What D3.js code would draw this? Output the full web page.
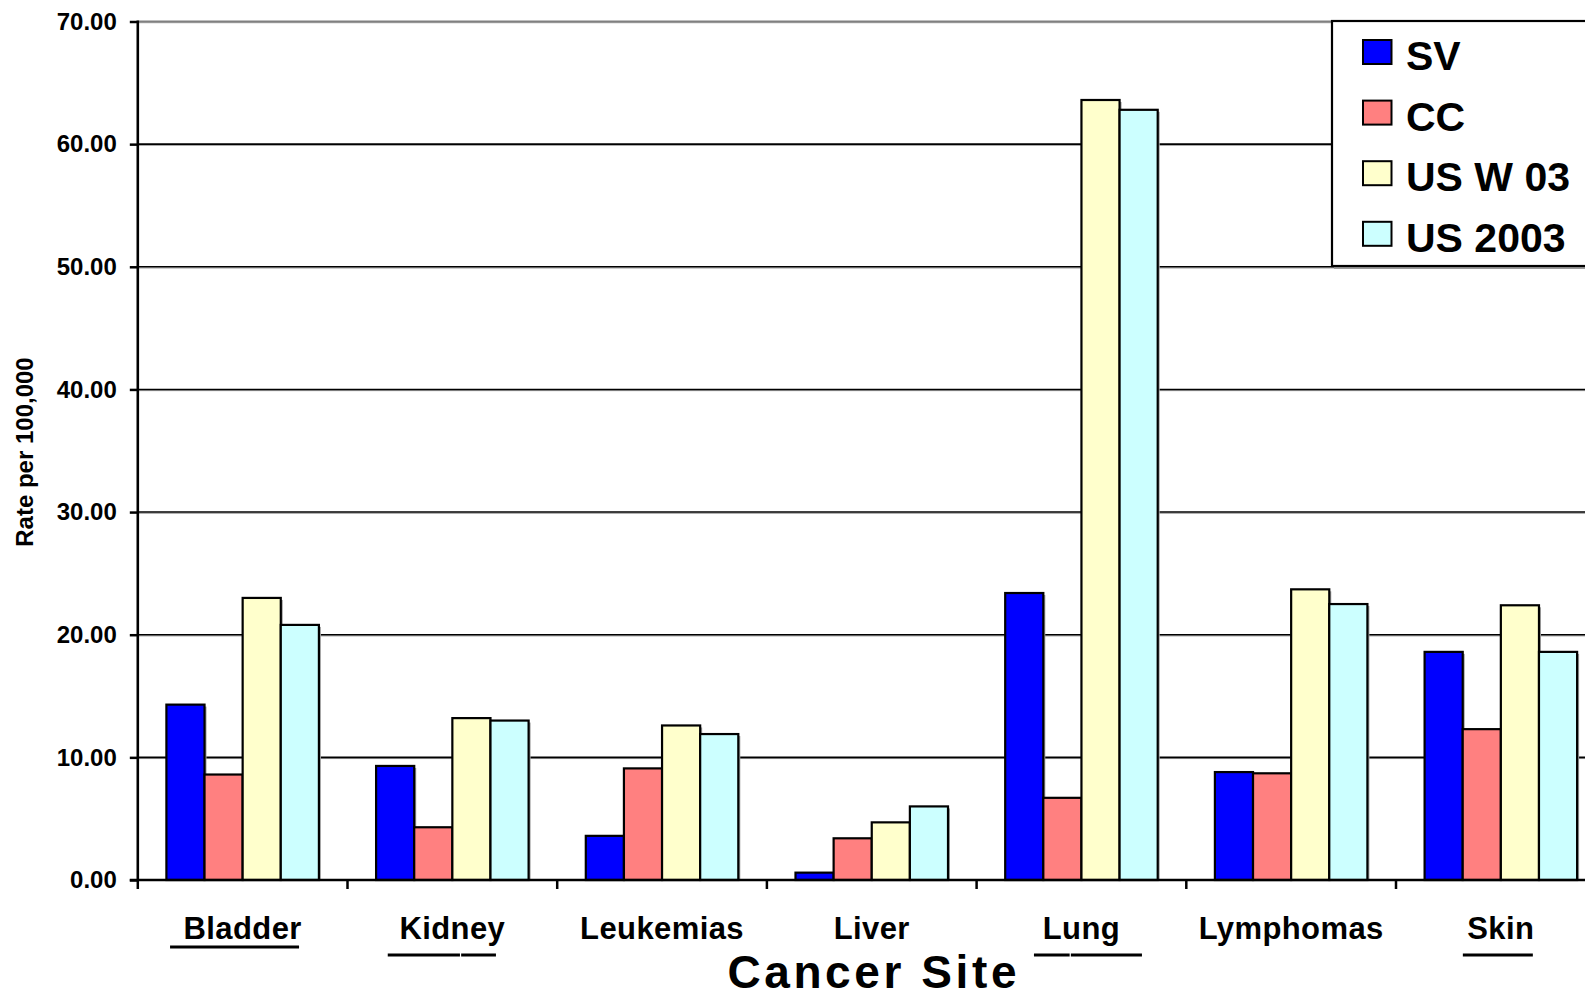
<!DOCTYPE html>
<html>
<head>
<meta charset="utf-8">
<script src="https://cdn.jsdelivr.net/npm/d3@7"></script>
<style>
  html, body { margin: 0; padding: 0; background: #fff; }
  svg { display: block; }
  text { font-family: "Liberation Sans", Arial, sans-serif; font-weight: bold; fill: #000; }
</style>
</head>
<body>
<svg id="chart" width="1585" height="998"></svg>
<script>
// Cancer incidence rates per 100,000 by site
const categories = ["Bladder", "Kidney", "Leukemias", "Liver", "Lung", "Lymphomas", "Skin"];
const seriesNames = ["SV", "CC", "US W 03", "US 2003"];
const sv     = [14.3, 9.3, 3.6, 0.6, 23.4, 8.8, 18.6];
const cc     = [8.6, 4.3, 9.1, 3.4, 6.7, 8.7, 12.3];
const usW03  = [23.0, 13.2, 12.6, 4.7, 63.6, 23.7, 22.4];
const us2003 = [20.8, 13.0, 11.9, 6.0, 62.8, 22.5, 18.6];
const yTicks = [0, 10, 20, 30, 40, 50, 60, 70];

const seriesValues = [sv, cc, usW03, us2003];
const colors = ["#0000FF", "#FF8080", "#FFFFCC", "#CCFFFF"];

// decorative underlines below some category labels (offsets from label centre)
const labelUnderlines = [
  { cat: "Bladder", y: 947, segs: [[-72.6, 56.4]] },
  { cat: "Kidney",  y: 955, segs: [[-64.6, 7.6], [8.8, 43.6]] },
  { cat: "Lung",    y: 955, segs: [[-47.5, -11.8], [-10.6, 60.5]] },
  { cat: "Skin",    y: 955, segs: [[-38, 32]] }
];

const svg = d3.select("#chart");

const plot = { left: 137.8, right: 1605.7, top: 21.5, bottom: 880 };

const x0 = d3.scaleBand().domain(categories).range([plot.left, plot.right]).padding(0);
const x1 = d3.scaleBand().domain(seriesNames).range([0, x0.bandwidth()])
  .paddingInner(0).paddingOuter(0.75);
const y = d3.scaleLinear().domain([0, 70]).range([plot.bottom, plot.top]);

// horizontal gridlines
const grid = svg.append("g");
yTicks.filter(t => t > 0).forEach(t => {
  const top = t === 70;
  grid.append("line")
    .attr("x1", plot.left).attr("x2", 1585)
    .attr("y1", y(t) + 1.2).attr("y2", y(t) + 1.2)
    .attr("stroke", "#9a9a9a").attr("stroke-width", 1);
  grid.append("line")
    .attr("x1", plot.left).attr("x2", 1585)
    .attr("y1", y(t)).attr("y2", y(t))
    .attr("stroke", top ? "#808080" : "#000").attr("stroke-width", top ? 2 : 1.6);
});

// bars
const rows = categories.map((c, i) => ({ cat: c, vals: seriesNames.map((s, j) => ({ s, j, v: seriesValues[j][i] })) }));

const groups = svg.append("g").selectAll("g")
  .data(rows).join("g")
  .attr("transform", d => `translate(${x0(d.cat)},0)`);

// soft shadow on the right of each group
groups.selectAll("rect.shadow")
  .data(d => d.vals).join("rect")
  .attr("class", "shadow")
  .attr("x", d => x1(d.s) + 2)
  .attr("y", d => y(d.v) + 2)
  .attr("width", x1.bandwidth())
  .attr("height", d => Math.max(0, y(0) - y(d.v) - 2))
  .attr("fill", "#a0a0a0");

groups.selectAll("rect.bar")
  .data(d => d.vals).join("rect")
  .attr("class", "bar")
  .attr("x", d => x1(d.s))
  .attr("y", d => y(d.v))
  .attr("width", x1.bandwidth())
  .attr("height", d => y(0) - y(d.v))
  .attr("fill", d => colors[d.j])
  .attr("stroke", "#000")
  .attr("stroke-width", 2.2);

// y axis
const yAxis = d3.axisLeft(y).tickValues(yTicks).tickFormat(d3.format(".2f"))
  .tickSize(8).tickPadding(13);
const yg = svg.append("g").attr("transform", `translate(${plot.left},0)`).call(yAxis);
yg.select(".domain").remove();
yg.selectAll(".tick line").attr("stroke", "#000").attr("stroke-width", 2.5);
yg.selectAll(".tick text").style("font-size", "24px").style("font-family", "'Liberation Sans', Arial, sans-serif")
  .style("font-weight", "bold").attr("fill", "#000");
svg.append("line")
  .attr("x1", plot.left).attr("x2", plot.left)
  .attr("y1", plot.top - 1).attr("y2", plot.bottom)
  .attr("stroke", "#000").attr("stroke-width", 2.6);

// x axis
const xb = svg.append("g");
xb.append("line")
  .attr("x1", plot.left - 8).attr("x2", 1585)
  .attr("y1", plot.bottom).attr("y2", plot.bottom)
  .attr("stroke", "#000").attr("stroke-width", 2.6);
xb.selectAll("line.tick")
  .data(categories.map(c => x0(c)).concat([plot.right]))
  .join("line").attr("class", "tick")
  .attr("x1", d => d).attr("x2", d => d)
  .attr("y1", plot.bottom).attr("y2", plot.bottom + 9)
  .attr("stroke", "#000").attr("stroke-width", 2.5);

xb.selectAll("text.cat")
  .data(categories).join("text").attr("class", "cat")
  .attr("x", d => x0(d) + x0.bandwidth() / 2)
  .attr("y", 938.5)
  .attr("text-anchor", "middle")
  .style("font-size", "31px")
  .style("letter-spacing", "0.4px")
  .text(d => d);

labelUnderlines.forEach(u => {
  const cx = x0(u.cat) + x0.bandwidth() / 2;
  u.segs.forEach(s => {
    xb.append("line")
      .attr("x1", cx + s[0]).attr("x2", cx + s[1])
      .attr("y1", u.y).attr("y2", u.y)
      .attr("stroke", "#000").attr("stroke-width", 3);
  });
});

// axis titles
svg.append("text")
  .attr("x", (plot.left + plot.right) / 2 + 2)
  .attr("y", 988)
  .attr("text-anchor", "middle")
  .style("font-size", "46px")
  .style("letter-spacing", "3.6px")
  .text("Cancer Site");

svg.append("text")
  .attr("transform", "translate(33,452) rotate(-90)")
  .attr("text-anchor", "middle")
  .style("font-size", "24px")
  .text("Rate per 100,000");

// legend
const lg = svg.append("g");
lg.append("rect")
  .attr("x", 1334).attr("y", 23).attr("width", 300).attr("height", 246)
  .attr("fill", "#9a9a9a");
lg.append("rect")
  .attr("x", 1332).attr("y", 21).attr("width", 300).attr("height", 245)
  .attr("fill", "#fff").attr("stroke", "#000").attr("stroke-width", 2.2);
const items = lg.selectAll("g.item").data(seriesNames).join("g").attr("class", "item")
  .attr("transform", (d, i) => `translate(1363,${40 + i * 60.6})`);
items.append("rect")
  .attr("width", 28.5).attr("height", 24)
  .attr("fill", (d, i) => colors[i])
  .attr("stroke", "#000").attr("stroke-width", 2);
items.append("text")
  .attr("x", 43).attr("y", 30)
  .style("font-size", "41px")
  .text(d => d);
</script>
</body>
</html>
